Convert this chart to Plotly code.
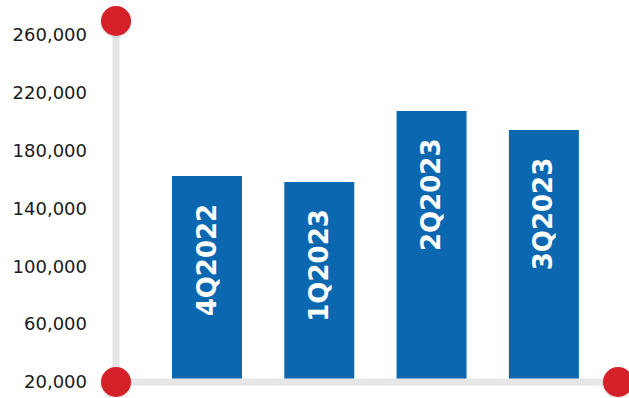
import plotly.graph_objects as go

categories = ["4Q2022", "1Q2023", "2Q2023", "3Q2023"]
values = [162500, 158300, 207400, 194300]
tick_values = [20000, 60000, 100000, 140000, 180000, 220000, 260000]
tick_labels = ["20,000", "60,000", "100,000", "140,000", "180,000", "220,000", "260,000"]

BAR = "#0b68b0"
RED = "#d42129"
GREY = "#e6e6e6"

fig = go.Figure()
fig.add_trace(go.Bar(x=categories, y=values, marker=dict(color=BAR, line=dict(width=0)),
                     width=0.623, hoverinfo="skip"))

for c, v in zip(categories, values):
    fig.add_annotation(x=c, y=v, text="<b>%s</b>" % c, textangle=-90, showarrow=False,
                       yanchor="top", xanchor="center", yshift=-25,
                       font=dict(family="DejaVu Sans", size=26, color="white"))

shapes = [
    dict(type="line", xref="paper", yref="paper", x0=0, x1=0, y0=0, y1=1,
         line=dict(color=GREY, width=7)),
    dict(type="line", xref="paper", yref="paper", x0=0, x1=1.05, y0=0, y1=0,
         line=dict(color=GREY, width=7)),
]
for (px, py) in [(0, 1), (0, 0), (1, 0)]:
    shapes.append(dict(type="circle", xref="paper", yref="paper", xsizemode="pixel", ysizemode="pixel",
                       xanchor=px, yanchor=py, x0=-16, x1=16, y0=-17, y1=15,
                       fillcolor="rgba(0,0,0,0.08)", line=dict(width=0)))
    shapes.append(dict(type="circle", xref="paper", yref="paper", xsizemode="pixel", ysizemode="pixel",
                       xanchor=px, yanchor=py, x0=-15, x1=15, y0=-15, y1=15,
                       fillcolor=RED, line=dict(width=0)))

fig.update_layout(
    width=629, height=398,
    margin=dict(l=116, r=11, t=21, b=16, autoexpand=False),
    paper_bgcolor="white", plot_bgcolor="white",
    showlegend=False,
    shapes=shapes,
    xaxis=dict(range=[-0.81, 3.66], showticklabels=False, showgrid=False, zeroline=False,
               showline=False, ticks="", automargin=False),
    yaxis=dict(range=[20000, 269600], tickvals=tick_values, ticktext=tick_labels,
               showgrid=False, zeroline=False, showline=False, ticks="",
               ticklabelstandoff=28, automargin=False,
               tickfont=dict(family="DejaVu Sans", size=18, color="#1a1a1a")),
)

fig.write_html("out.html")
